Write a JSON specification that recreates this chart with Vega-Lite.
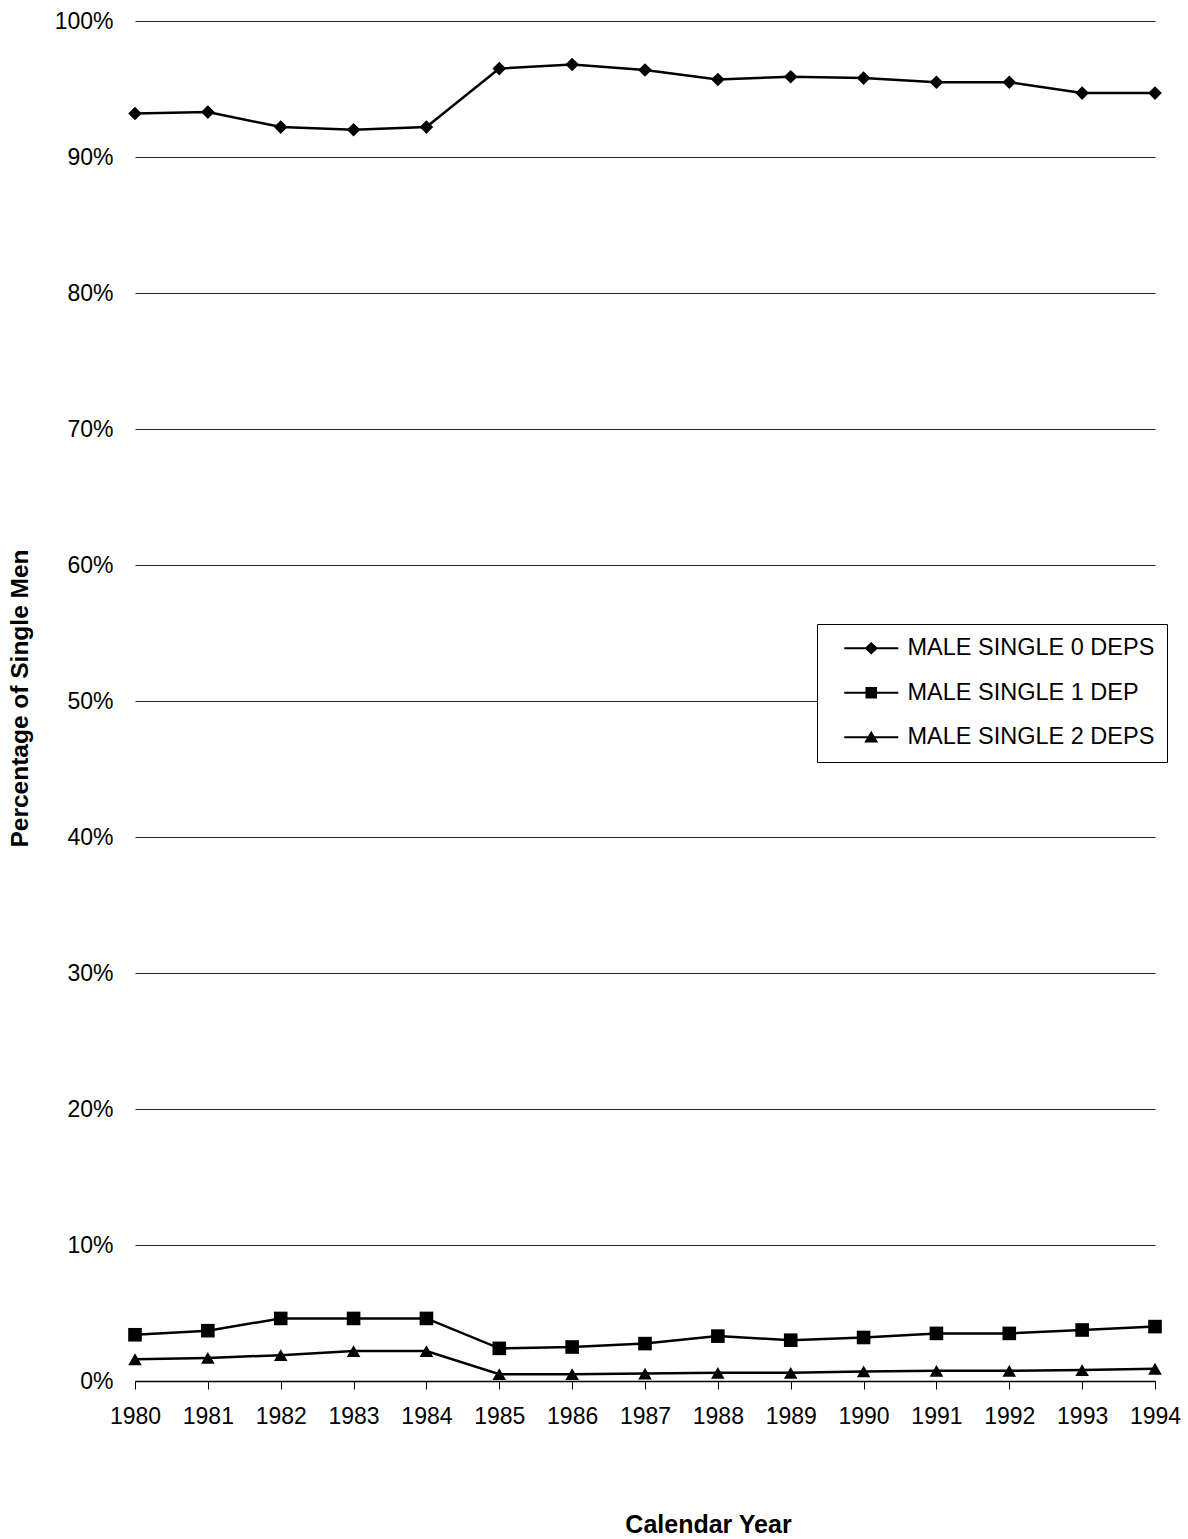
{
  "$schema": "https://vega.github.io/schema/vega-lite/v6.json",
  "width": 1020,
  "height": 1360,
  "autosize": "none",
  "padding": {"left": 135, "top": 21, "right": 33, "bottom": 158},
  "background": "white",
  "config": {"font": "Liberation Sans", "view": {"stroke": null}},
  "data": {"values": [
    {"year": 1980, "series": "MALE SINGLE 0 DEPS", "value": 0.932},
    {"year": 1981, "series": "MALE SINGLE 0 DEPS", "value": 0.933},
    {"year": 1982, "series": "MALE SINGLE 0 DEPS", "value": 0.922},
    {"year": 1983, "series": "MALE SINGLE 0 DEPS", "value": 0.920},
    {"year": 1984, "series": "MALE SINGLE 0 DEPS", "value": 0.922},
    {"year": 1985, "series": "MALE SINGLE 0 DEPS", "value": 0.965},
    {"year": 1986, "series": "MALE SINGLE 0 DEPS", "value": 0.968},
    {"year": 1987, "series": "MALE SINGLE 0 DEPS", "value": 0.964},
    {"year": 1988, "series": "MALE SINGLE 0 DEPS", "value": 0.957},
    {"year": 1989, "series": "MALE SINGLE 0 DEPS", "value": 0.959},
    {"year": 1990, "series": "MALE SINGLE 0 DEPS", "value": 0.958},
    {"year": 1991, "series": "MALE SINGLE 0 DEPS", "value": 0.955},
    {"year": 1992, "series": "MALE SINGLE 0 DEPS", "value": 0.955},
    {"year": 1993, "series": "MALE SINGLE 0 DEPS", "value": 0.947},
    {"year": 1994, "series": "MALE SINGLE 0 DEPS", "value": 0.947},
    {"year": 1980, "series": "MALE SINGLE 1 DEP", "value": 0.034},
    {"year": 1981, "series": "MALE SINGLE 1 DEP", "value": 0.037},
    {"year": 1982, "series": "MALE SINGLE 1 DEP", "value": 0.046},
    {"year": 1983, "series": "MALE SINGLE 1 DEP", "value": 0.046},
    {"year": 1984, "series": "MALE SINGLE 1 DEP", "value": 0.046},
    {"year": 1985, "series": "MALE SINGLE 1 DEP", "value": 0.024},
    {"year": 1986, "series": "MALE SINGLE 1 DEP", "value": 0.025},
    {"year": 1987, "series": "MALE SINGLE 1 DEP", "value": 0.0275},
    {"year": 1988, "series": "MALE SINGLE 1 DEP", "value": 0.033},
    {"year": 1989, "series": "MALE SINGLE 1 DEP", "value": 0.030},
    {"year": 1990, "series": "MALE SINGLE 1 DEP", "value": 0.032},
    {"year": 1991, "series": "MALE SINGLE 1 DEP", "value": 0.035},
    {"year": 1992, "series": "MALE SINGLE 1 DEP", "value": 0.035},
    {"year": 1993, "series": "MALE SINGLE 1 DEP", "value": 0.0375},
    {"year": 1994, "series": "MALE SINGLE 1 DEP", "value": 0.040},
    {"year": 1980, "series": "MALE SINGLE 2 DEPS", "value": 0.016},
    {"year": 1981, "series": "MALE SINGLE 2 DEPS", "value": 0.017},
    {"year": 1982, "series": "MALE SINGLE 2 DEPS", "value": 0.019},
    {"year": 1983, "series": "MALE SINGLE 2 DEPS", "value": 0.022},
    {"year": 1984, "series": "MALE SINGLE 2 DEPS", "value": 0.022},
    {"year": 1985, "series": "MALE SINGLE 2 DEPS", "value": 0.005},
    {"year": 1986, "series": "MALE SINGLE 2 DEPS", "value": 0.005},
    {"year": 1987, "series": "MALE SINGLE 2 DEPS", "value": 0.0055},
    {"year": 1988, "series": "MALE SINGLE 2 DEPS", "value": 0.006},
    {"year": 1989, "series": "MALE SINGLE 2 DEPS", "value": 0.006},
    {"year": 1990, "series": "MALE SINGLE 2 DEPS", "value": 0.007},
    {"year": 1991, "series": "MALE SINGLE 2 DEPS", "value": 0.0075},
    {"year": 1992, "series": "MALE SINGLE 2 DEPS", "value": 0.0075},
    {"year": 1993, "series": "MALE SINGLE 2 DEPS", "value": 0.008},
    {"year": 1994, "series": "MALE SINGLE 2 DEPS", "value": 0.009}
  ]},
  "encoding": {
    "x": {
      "field": "year", "type": "quantitative",
      "scale": {"domain": [1980, 1994], "nice": false, "zero": false},
      "axis": {
        "values": [1980, 1981, 1982, 1983, 1984, 1985, 1986, 1987, 1988, 1989, 1990, 1991, 1992, 1993, 1994],
        "format": "d", "grid": false,
        "domain": true, "domainColor": "black", "domainWidth": 1.5,
        "ticks": true, "tickColor": "black", "tickSize": 8, "tickWidth": 1,
        "labelPadding": 16, "labelFontSize": 23, "labelColor": "black", "labelFont": "Liberation Sans",
        "labelOverlap": false, "labelFlush": false,
        "title": "Calendar Year", "titleFontSize": 25, "titleFontWeight": "bold", "titleColor": "black",
        "titleFont": "Liberation Sans",
        "titleX": 573, "titleY": 151, "titleBaseline": "alphabetic", "titleAlign": "center"
      }
    },
    "y": {
      "field": "value", "type": "quantitative",
      "scale": {"domain": [0, 1], "nice": false},
      "axis": {
        "values": [0, 0.1, 0.2, 0.3, 0.4, 0.5, 0.6, 0.7, 0.8, 0.9, 1.0],
        "format": ".0%",
        "grid": true, "gridColor": "#222", "gridWidth": 1,
        "domain": false, "ticks": false, "tickSize": 0,
        "labelPadding": 22, "labelFontSize": 23, "labelColor": "black", "labelFont": "Liberation Sans",
        "labelOverlap": false, "labelFlush": false,
        "title": "Percentage of Single Men", "titleFontSize": 24.5, "titleFontWeight": "bold", "titleColor": "black",
        "titleFont": "Liberation Sans",
        "titleAngle": -90, "titleX": -108, "titleY": 677, "titleBaseline": "alphabetic", "titleAlign": "center"
      }
    }
  },
  "layer": [
    {
      "mark": {"type": "line", "color": "black", "strokeWidth": 2.5},
      "encoding": {"detail": {"field": "series", "type": "nominal"}}
    },
    {
      "mark": {"type": "point", "filled": true, "color": "black", "opacity": 1, "size": 185},
      "encoding": {
        "shape": {
          "field": "series", "type": "nominal",
          "scale": {"domain": ["MALE SINGLE 0 DEPS", "MALE SINGLE 1 DEP", "MALE SINGLE 2 DEPS"], "range": ["diamond", "square", "triangle-up"]},
          "legend": null
        }
      }
    },
    {
      "mark": {"type": "point", "filled": true, "color": "black", "opacity": 0},
      "encoding": {
        "shape": {
          "field": "series", "type": "nominal",
          "scale": {
            "domain": ["MALE SINGLE 0 DEPS", "MALE SINGLE 1 DEP", "MALE SINGLE 2 DEPS"],
            "range": [
              "M0.286,-0.095L5.429,-0.095L5.429,0.095L0.286,0.095ZM2.857,-0.6L3.5,0L2.857,0.6L2.214,0Z",
              "M0.286,-0.095L5.429,-0.095L5.429,0.095L0.286,0.095ZM2.31,-0.55L3.405,-0.55L3.405,0.55L2.31,0.55Z",
              "M0.286,-0.095L5.429,-0.095L5.429,0.095L0.286,0.095ZM2.857,-0.62L3.52,0.5L2.194,0.5Z"
            ]
          },
          "legend": {
            "title": null,
            "orient": "none", "legendX": 682, "legendY": 603,
            "padding": 12.5, "strokeColor": "black", "fillColor": "white",
            "symbolSize": 441, "symbolStrokeWidth": 0, "symbolFillColor": "black", "symbolOpacity": 1,
            "labelFontSize": 23.5, "labelFont": "Liberation Sans", "labelColor": "black", "labelOffset": 54.5, "labelLimit": 0,
            "rowPadding": 19.5
          }
        }
      }
    }
  ],
  "resolve": {"scale": {"shape": "independent"}, "legend": {"shape": "independent"}}
}
